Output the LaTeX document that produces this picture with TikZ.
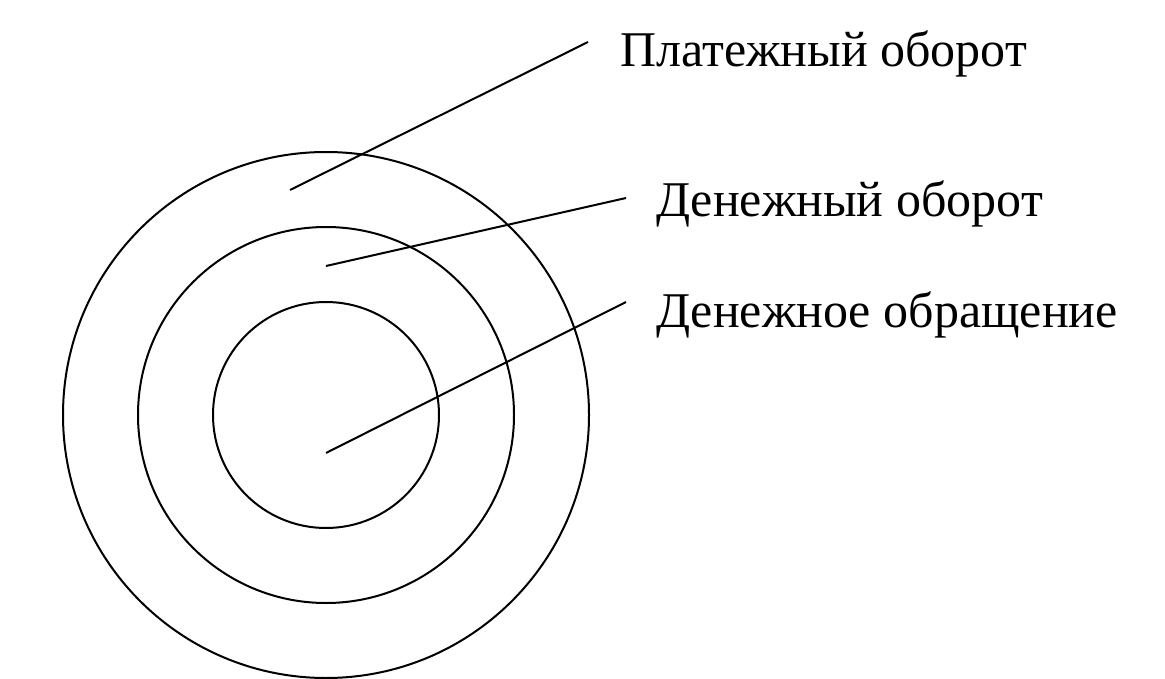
\documentclass[tikz,border=0pt]{standalone}
\usepackage{fontspec}
\setmainfont{Liberation Serif}
\begin{document}
\begin{tikzpicture}[x=1pt,y=-1pt,
  ring/.style={draw=black,line width=2pt},
  leader/.style={draw=black,line width=2pt},
  lbl/.style={anchor=base west,inner sep=0pt,font=\fontsize{50}{60}\selectfont}]
\useasboundingbox (0,0) rectangle (1165,679);
\coordinate (c) at (326,415);
\draw[ring] (c) circle[radius=263];
\draw[ring] (c) circle[radius=188];
\draw[ring] (c) circle[radius=113];
\node[lbl] (t1) at (620,67) {Платежный оборот};
\node[lbl] (t2) at (656,217) {Денежный оборот};
\node[lbl] (t3) at (656,327) {Денежное обращение};
\coordinate (a1) at (290,190);
\coordinate (b1) at (588,42);
\coordinate (a2) at (326,266);
\coordinate (b2) at (626,198);
\coordinate (a3) at (326,453);
\coordinate (b3) at (626,302);
\draw[leader] (a1) -- (b1);
\draw[leader] (a2) -- (b2);
\draw[leader] (a3) -- (b3);
\end{tikzpicture}
\end{document}
